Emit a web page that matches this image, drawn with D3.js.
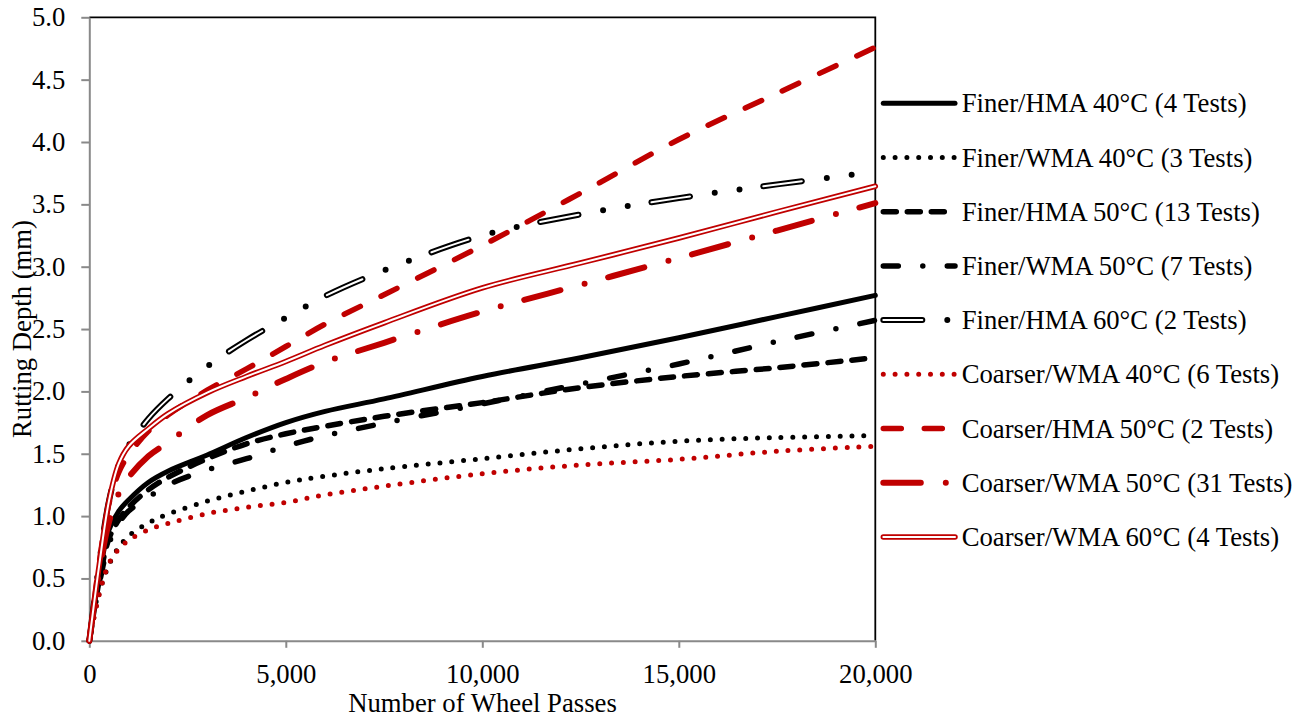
<!DOCTYPE html>
<html><head><meta charset="utf-8">
<script src="https://cdn.jsdelivr.net/npm/d3@7"></script>
<style>
body{margin:0;background:#fff}
text{font-family:"Liberation Serif","Times New Roman",serif;}
</style>
</head><body>
<svg id="c" width="1308" height="719"></svg>
<script>
// ---- data ----
const passes = [0,250,500,750,1000,1500,2000,3000,4000,5000,6000,7500,10000,12500,15000,17500,20000];
const finerHMA40   = [0,0.52,0.89,1.04,1.13,1.27,1.36,1.49,1.63,1.75,1.84,1.94,2.12,2.27,2.43,2.60,2.77];
const finerWMA40   = [0,0.38,0.61,0.75,0.84,0.945,1.015,1.12,1.20,1.27,1.32,1.38,1.46,1.54,1.60,1.63,1.645];
const finerHMA50   = [0,0.48,0.82,0.97,1.07,1.21,1.31,1.46,1.58,1.66,1.72,1.80,1.91,2.03,2.12,2.19,2.27];
const finerWMA50   = [0,0.45,0.78,0.94,1.04,1.15,1.25,1.37,1.46,1.56,1.645,1.745,1.90,2.06,2.22,2.40,2.57];
const finerHMA60   = [0,0.62,1.12,1.41,1.565,1.78,1.94,2.20,2.41,2.59,2.765,2.97,3.25,3.42,3.55,3.66,3.76];
const coarserWMA40 = [0,0.37,0.62,0.735,0.805,0.89,0.94,1.02,1.07,1.11,1.17,1.24,1.34,1.41,1.455,1.52,1.56];
const coarserHMA50 = [0,0.62,1.10,1.35,1.49,1.68,1.81,2.01,2.18,2.36,2.54,2.775,3.17,3.59,4.02,4.39,4.76];
const coarserWMA50 = [0,0.55,0.95,1.18,1.31,1.48,1.59,1.81,1.95,2.10,2.235,2.39,2.64,2.855,3.07,3.29,3.51];
const coarserWMA60 = [0,0.60,1.12,1.42,1.56,1.70,1.82,1.99,2.12,2.24,2.37,2.55,2.83,3.03,3.23,3.44,3.645];

const seriesNames = [
  "Finer/HMA 40°C (4 Tests)",
  "Finer/WMA 40°C (3 Tests)",
  "Finer/HMA 50°C (13 Tests)",
  "Finer/WMA 50°C (7 Tests)",
  "Finer/HMA 60°C (2 Tests)",
  "Coarser/WMA 40°C (6 Tests)",
  "Coarser/HMA 50°C (2 Tests)",
  "Coarser/WMA 50°C (31 Tests)",
  "Coarser/WMA 60°C (4 Tests)"
];
const seriesValues = [finerHMA40, finerWMA40, finerHMA50, finerWMA50, finerHMA60,
                      coarserWMA40, coarserHMA50, coarserWMA50, coarserWMA60];
const yTicks = [0,0.5,1,1.5,2,2.5,3,3.5,4,4.5,5];
const xTicks = [0,5000,10000,15000,20000];
const xTitle = "Number of Wheel Passes";
const yTitle = "Rutting Depth (mm)";

// ---- styles ----
const RED = "#C00000", BLK = "#000000";
const FS = 26.7;
const styles = [
  [{c:BLK,w:5,d:null}],
  [{c:BLK,w:5,d:"0 11.8"}],
  [{c:BLK,w:5.5,d:"13 11"}],
  [{c:BLK,w:5.5,d:"15 24.5 0 24.5"}],
  [{c:BLK,w:6,d:"39 25 0 25 0 24"},{c:"#fff",w:2,d:"39 74"}],
  [{c:RED,w:5,d:"0 11.8"}],
  [{c:RED,w:5.5,d:"18 23"}],
  [{c:RED,w:6,d:"37.5 25 0 24.4"}],
  [{c:RED,w:5.5,d:null},{c:"#fff",w:2,d:null}]
];

const svg = d3.select("#c");
svg.append("rect").attr("width",1308).attr("height",719).attr("fill","#fff");

const x = d3.scaleLinear().domain([0,20000]).range([89.3,875.3]);
const y = d3.scaleLinear().domain([0,5]).range([640.8,17.3]);

// plot border (top/right black)
svg.append("path")
  .attr("d",`M${x(0)},${y(5)}H${x(20000)}V${y(0)}`)
  .attr("fill","none").attr("stroke","#000").attr("stroke-width",1.8);

const AX = "#898989";
const gx = svg.append("g").attr("transform",`translate(0,${y(0)})`)
  .call(d3.axisBottom(x).tickValues(xTicks).tickFormat(d3.format(",")).tickSize(7).tickPadding(16).tickSizeOuter(0));
const gy = svg.append("g").attr("transform",`translate(${x(0)},0)`)
  .call(d3.axisLeft(y).tickValues(yTicks).tickFormat(d3.format(".1f")).tickSize(8).tickPadding(16).tickSizeOuter(0));
[gx,gy].forEach(g=>{
  g.select(".domain").attr("stroke",AX).attr("stroke-width",2);
  g.selectAll(".tick line").attr("stroke",AX).attr("stroke-width",2);
  g.selectAll("text").attr("font-size",FS).attr("fill","#000")
    .attr("font-family","Liberation Serif, Times New Roman, serif");
});

svg.append("text").attr("x",482.5).attr("y",712).attr("text-anchor","middle")
  .attr("font-size",FS).text(xTitle);
svg.append("text").attr("transform","translate(31,329) rotate(-90)").attr("text-anchor","middle")
  .attr("font-size",FS).text(yTitle);

// series
const line = d3.line().x((d,i)=>x(passes[i])).y(d=>y(d)).curve(d3.curveCatmullRom.alpha(0.5));
seriesValues.forEach((vals,k)=>{
  styles[k].forEach(s=>{
    svg.append("path").datum(vals).attr("d",line)
      .attr("fill","none").attr("stroke",s.c).attr("stroke-width",s.w)
      .attr("stroke-linecap","round").attr("stroke-linejoin","round")
      .attr("stroke-dasharray",s.d);
  });
});

// legend
const lx0 = 883.3, lx1 = 955, ly0 = 103.3, ldy = 54.2;
seriesNames.forEach((name,k)=>{
  const yy = ly0 + k*ldy;
  styles[k].forEach(s=>{
    svg.append("path").attr("d",`M${lx0},${yy}H${lx1}`)
      .attr("fill","none").attr("stroke",s.c).attr("stroke-width",s.w)
      .attr("stroke-linecap","round").attr("stroke-dasharray",s.d);
  });
  svg.append("text").attr("x",961.7).attr("y",yy).attr("dy","0.34em")
    .attr("font-size",FS).text(name);
});
</script>
</body></html>
